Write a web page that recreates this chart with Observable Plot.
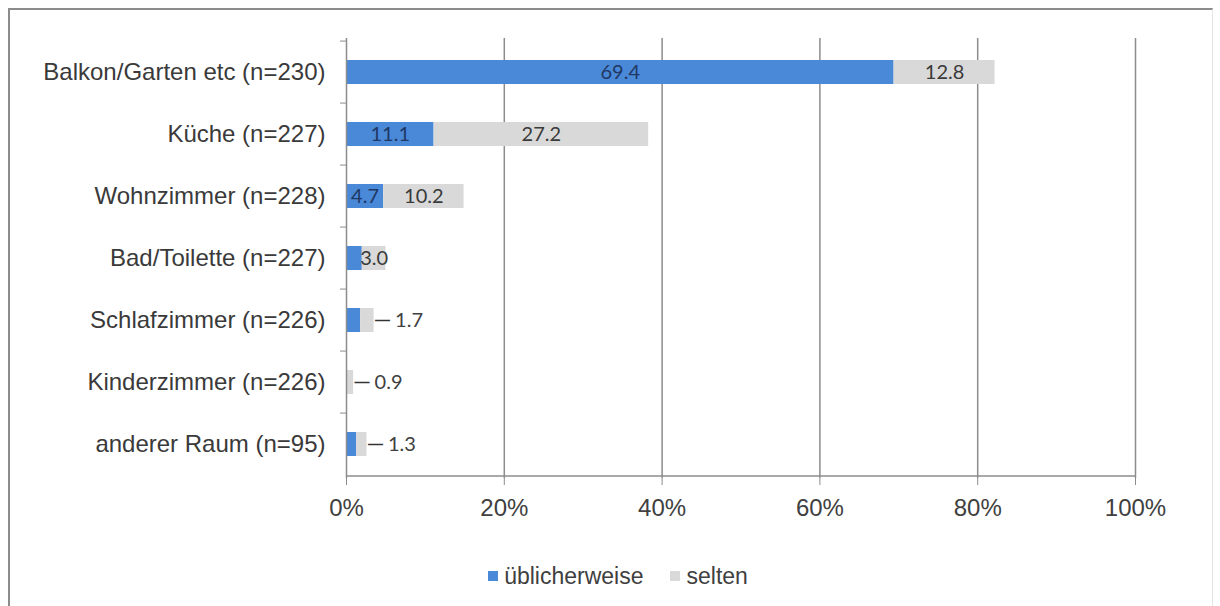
<!DOCTYPE html>
<html>
<head>
<meta charset="utf-8">
<script src="https://cdn.jsdelivr.net/npm/d3@7"></script>
<script src="https://cdn.jsdelivr.net/npm/@observablehq/plot@0.6"></script>
<style>
html,body{margin:0;padding:0;background:#fff;}
#page{position:relative;width:1220px;height:606px;overflow:hidden;background:#fff;}
#frame{position:absolute;left:8px;top:8px;width:1205px;height:700px;border-left:2px solid #8c8c8c;border-top:2px solid #8c8c8c;border-right:1px solid #e4e4e4;box-sizing:border-box;}
#chart{position:absolute;left:0;top:0;}
#legend{position:absolute;left:0;top:563px;width:1220px;display:flex;justify-content:center;padding-left:16px;box-sizing:border-box;font-family:"Liberation Sans",Arial,sans-serif;font-size:23px;color:#404040;line-height:26px;}
.item{display:flex;align-items:center;margin:0 13.5px;}
.sw{width:10px;height:10px;margin-right:6px;}
</style>
</head>
<body>
<div id="page">
  <div id="frame"></div>
  <div id="chart"></div>
  <div id="legend"></div>
</div>
<script>
const categories = ["Balkon/Garten etc (n=230)", "Küche (n=227)", "Wohnzimmer (n=228)", "Bad/Toilette (n=227)", "Schlafzimmer (n=226)", "Kinderzimmer (n=226)", "anderer Raum (n=95)"];
const series = ["üblicherweise", "selten"];
const usually = [69.4, 11.1, 4.7, 2.0, 1.8, 0.0, 1.3];
const rarely = [12.8, 27.2, 10.2, 3.0, 1.7, 0.9, 1.3];
const xTicks = [0, 20, 40, 60, 80, 100];
const colors = ["#4a88d8", "#d9d9d9"];

const rows = [];
categories.forEach((c, i) => {
  let start = 0;
  [usually[i], rarely[i]].forEach((v, j) => {
    rows.push({cat: c, series: series[j], value: v, start, end: start + v, mid: start + v / 2});
    start += v;
  });
});
const insideBlue = rows.filter(r => r.series === series[0] && r.value >= 4);
const insideGrey = rows.filter(r => r.series === series[1] && r.value >= 2.5);
const outside = rows.filter(r => r.series === series[1] && r.value < 2.5);

const W = 1220, H = 540, mT = 38, mB = 62, mL = 346, mR = 85;
const step = (H - mT - mB) / categories.length;
const lineColor = "#8c8c8c";

const plot = Plot.plot({
  width: W, height: H,
  marginTop: mT, marginBottom: mB, marginLeft: mL, marginRight: mR,
  style: {fontFamily: "'Liberation Sans', Arial, sans-serif", background: "transparent", overflow: "visible"},
  x: {domain: [0, 100]},
  y: {domain: categories, paddingInner: 0.62, paddingOuter: 0.31},
  color: {domain: series, range: colors},
  marks: [
    Plot.gridX(xTicks.filter(t => t > 0), {stroke: lineColor, strokeOpacity: 1, strokeWidth: 1.5}),
    Plot.barX(rows, {x1: "start", x2: "end", y: "cat", fill: "series"}),
    Plot.ruleX([0], {stroke: lineColor, strokeWidth: 1.5}),
    Plot.ruleY(categories.slice(-1), {y: d => d, x1: 0, x2: 100, dy: step / 2, stroke: lineColor, strokeWidth: 1.5}),
    Plot.axisX({ticks: xTicks, tickFormat: d => d + "%", tickSize: 7, tickPadding: 13, fontSize: 24, fill: "#404040", stroke: lineColor, label: null}),
    Plot.axisY({tickSize: 0, tickPadding: 21, fontSize: 24, fill: "#3a3a3a", label: null}),
    Plot.axisY({tickSize: 6, tickFormat: () => "", dy: -step / 2, stroke: lineColor, label: null}),
    Plot.text(insideBlue, {x: "mid", y: "cat", text: d => d.value.toFixed(1), fill: "#1f3864", fontFamily: "Lato", fontSize: 20}),
    Plot.text(insideGrey, {x: "mid", y: "cat", text: d => d.value.toFixed(1), fill: "#3a3a3a", fontFamily: "Lato", fontSize: 20}),
    Plot.text(outside, {x: "end", y: "cat", text: () => "—", dx: 1, textAnchor: "start", fontSize: 15, fontWeight: "bold", fill: "#333"}),
    Plot.text(outside, {x: "end", y: "cat", text: d => d.value.toFixed(1), dx: 21, textAnchor: "start", fill: "#404040", fontFamily: "Lato", fontSize: 20})
  ]
});
document.getElementById("chart").appendChild(plot);

const legend = document.getElementById("legend");
series.forEach((s, i) => {
  const item = document.createElement("div");
  item.className = "item";
  const sw = document.createElement("span");
  sw.className = "sw";
  sw.style.background = colors[i];
  const label = document.createElement("span");
  label.textContent = s;
  item.appendChild(sw);
  item.appendChild(label);
  legend.appendChild(item);
});
</script>
</body>
</html>
